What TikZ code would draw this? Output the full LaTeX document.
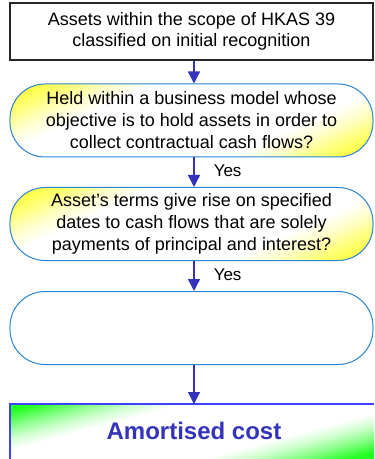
\documentclass[tikz,border=0pt]{standalone}
\usepackage{fontspec}
\setmainfont{Liberation Sans}
\usetikzlibrary{arrows.meta}
\definecolor{arrowblue}{HTML}{3333BB}
\definecolor{edgeblue}{HTML}{2A84D2}
\definecolor{ylw}{HTML}{FFFF10}
\definecolor{grn}{HTML}{22FF22}
\definecolor{greenedge}{HTML}{4040FF}
\pgfdeclareverticalshading{yband}{100bp}{color(0bp)=(ylw); color(16bp)=(ylw); color(24bp)=(ylw!60!white); color(30bp)=(ylw!22!white); color(35bp)=(white); color(65bp)=(white); color(70bp)=(ylw!22!white); color(76bp)=(ylw!60!white); color(84bp)=(ylw); color(100bp)=(ylw)}
\pgfdeclareverticalshading{gband}{100bp}{color(0bp)=(grn); color(22bp)=(grn); color(28bp)=(grn!55!white); color(33bp)=(grn!22!white); color(38bp)=(white); color(62bp)=(white); color(67bp)=(grn!22!white); color(72bp)=(grn!55!white); color(78bp)=(grn); color(100bp)=(grn)}
\tikzset{
  txt/.style={font=\fontsize{18bp}{22bp}\selectfont, align=center, inner sep=0pt},
  topbox/.style={draw=black!85, line width=1.4bp, minimum width=363bp, minimum height=57bp, txt, font=\fontsize{18bp}{21bp}\selectfont},
  qbox/.style={draw=edgeblue, line width=1bp, rounded corners=35bp, minimum width=363bp, minimum height=73bp, txt},
  yshade/.style={shading=yband, shading angle=25},
  arr/.style={draw=arrowblue, line width=1.5bp, -{Triangle[width=12bp,length=12bp]}, shorten >=0pt},
  yeslbl/.style={font=\fontsize{17bp}{20bp}\selectfont, inner sep=0pt, anchor=west, xshift=19bp, pos=0.45},
}
\begin{document}
\begin{tikzpicture}[x=1bp, y=-1bp]
\useasboundingbox (0,0) rectangle (374,459);
\node[topbox] (a) at (191.5,31.5) {Assets within the scope of HKAS 39\\classified on initial recognition};
\node[qbox, yshade] (b) at (191.5,120.5) {Held within a business model whose\\objective is to hold assets in order to\\collect contractual cash flows?};
\node[qbox, yshade] (c) at (191.5,224) {Asset’s terms give rise on specified\\dates to cash flows that are solely\\payments of principal and interest?};
\node[qbox, fill=white] (d) at (191.5,328) {};
\begin{scope}
\clip (0,0) rectangle (374,459);
\shade[shading=gband, shading angle=15] (10,404) rectangle (374,459);
\end{scope}
\coordinate (gtl) at (10,404);
\coordinate (gtr) at (374,404);
\coordinate (gbl) at (10,459);
\draw[greenedge, line width=1.2bp] (gbl) -- (gtl) -- (gtr);
\node[font=\fontsize{24bp}{28bp}\selectfont\bfseries, text=arrowblue, inner sep=0pt] (e) at (194,431) {Amortised cost};
\draw[arr] ([xshift=2.5bp]a.south) -- ([xshift=2.5bp]b.north);
\draw[arr] ([xshift=2.5bp]b.south) -- node[yeslbl] {Yes} ([xshift=2.5bp]c.north);
\draw[arr] ([xshift=2.5bp]c.south) -- node[yeslbl] {Yes} ([xshift=2.5bp]d.north);
\draw[arr] ([xshift=2.5bp]d.south) -- ([xshift=2.5bp]d.south |- gtl);
\end{tikzpicture}
\end{document}
